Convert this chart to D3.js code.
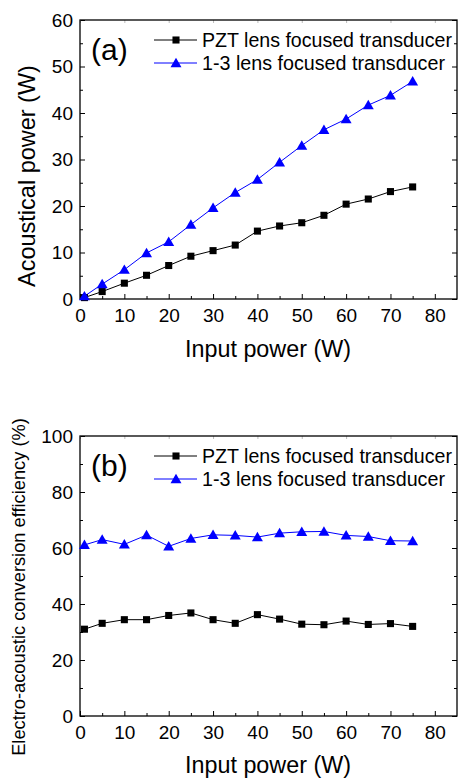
<!DOCTYPE html>
<html><head><meta charset="utf-8">
<script src="https://cdn.jsdelivr.net/npm/d3@7"></script>
<style>body{margin:0;background:#fff}text{font-family:"Liberation Sans",Arial,sans-serif;fill:#000}</style>
</head><body><svg id="c" width="462" height="781"></svg>
<script>
const inputPower = [1,5,10,15,20,25,30,35,40,45,50,55,60,65,70,75];
const pztPower = [0.3,1.6,3.4,5.1,7.2,9.2,10.4,11.6,14.6,15.7,16.4,18.0,20.4,21.5,23.1,24.1];
const c13Power = [0.6,3.2,6.3,9.9,12.3,16.0,19.6,22.9,25.7,29.4,33.0,36.4,38.7,41.7,43.8,46.8];
const pztEff = [31.0,33.1,34.4,34.4,35.9,36.8,34.4,33.1,36.2,34.6,32.8,32.6,33.9,32.7,33.0,32.0];
const c13Eff = [61.1,63.0,61.3,64.6,60.6,63.4,64.7,64.5,63.9,65.3,65.8,65.9,64.5,64.1,62.6,62.5];
const xTicks = [0,10,20,30,40,50,60,70,80];
const yTicksA = [0,10,20,30,40,50,60];
const yTicksB = [0,20,40,60,80,100];
const seriesNames = ["PZT lens focused transducer","1-3 lens focused transducer"];

const svg = d3.select("#c");
const L=80,R=457;

function fitSize(sel,target){
  sel.attr("font-size",20);
  const w=sel.node().getComputedTextLength();
  sel.attr("font-size",20*target/w);
}

function panel(top,bottom,yMax,yTicks,yMinorStep,pzt,c13,label,yTitle,yTitleLen,yTitleX,yTitleY,xTitleY){
  const x=d3.scaleLinear().domain([0,85]).range([L,R]);
  const y=d3.scaleLinear().domain([0,yMax]).range([bottom,top]);
  const g=svg.append("g");
  const xMinor=d3.range(5,85,10);
  const yMinor=d3.range(yMinorStep,yMax,yMinorStep*2);
  g.append("g").attr("transform",`translate(0,${bottom})`)
    .call(d3.axisBottom(x).tickValues(xTicks).tickSizeInner(-5).tickSizeOuter(0).tickPadding(10));
  g.append("g").attr("transform",`translate(0,${bottom})`)
    .call(d3.axisBottom(x).tickValues(xMinor).tickSizeInner(-3).tickSizeOuter(0).tickFormat(""));
  g.append("g").attr("transform",`translate(${L},0)`)
    .call(d3.axisLeft(y).tickValues(yTicks).tickSizeInner(-5).tickSizeOuter(0).tickPadding(7));
  g.append("g").attr("transform",`translate(${L},0)`)
    .call(d3.axisLeft(y).tickValues(yMinor).tickSizeInner(-3).tickSizeOuter(0).tickFormat(""));
  g.append("g").attr("transform",`translate(${R},0)`)
    .call(d3.axisRight(y).tickValues(yTicks).tickSizeInner(-5).tickSizeOuter(0).tickFormat(""));
  g.append("g").attr("transform",`translate(${R},0)`)
    .call(d3.axisRight(y).tickValues(yMinor).tickSizeInner(-3).tickSizeOuter(0).tickFormat(""));
  g.append("g").attr("class","topax").attr("transform",`translate(0,${top})`)
    .call(d3.axisTop(x).tickValues(xTicks).tickSizeInner(-3).tickSizeOuter(0).tickFormat(""));
  g.selectAll(".domain").remove();
  g.selectAll(".tick line").attr("stroke","#000").attr("stroke-width",1);
  g.selectAll(".topax .tick line").attr("stroke","#bbb");
  g.selectAll(".tick text").attr("font-size",19).attr("font-family","Liberation Sans, Arial, sans-serif").attr("fill","#000");
  g.append("rect").attr("x",L).attr("y",top).attr("width",R-L).attr("height",bottom-top)
    .attr("fill","none").attr("stroke","#000").attr("stroke-width",1.3);
  const line=d3.line().x((d,i)=>x(inputPower[i])).y(d=>y(d));
  g.append("path").datum(pzt).attr("d",line).attr("fill","none").attr("stroke","#000").attr("stroke-width",1);
  g.append("path").datum(c13).attr("d",line).attr("fill","none").attr("stroke","#0000ff").attr("stroke-width",1);
  const sq=d3.symbol().type(d3.symbolSquare).size(50);
  const tri=d3.symbol().type(d3.symbolTriangle).size(52);
  g.selectAll(".sq").data(pzt).enter().append("path").attr("d",sq)
    .attr("transform",(d,i)=>`translate(${x(inputPower[i])},${y(d)})`).attr("fill","#000");
  g.selectAll(".tri").data(c13).enter().append("path").attr("d",tri)
    .attr("transform",(d,i)=>`translate(${x(inputPower[i])},${y(d)+1})`).attr("fill","#0000ff");
  g.append("text").attr("x",91).attr("y",top+40).attr("font-size",30).text(label);
  const ly=[top+20,top+43];
  const cols=["#000","#0000ff"];
  const lens=[250,243];
  [0,1].forEach(k=>{
    g.append("line").attr("x1",154).attr("x2",197).attr("y1",ly[k]).attr("y2",ly[k]).attr("stroke",cols[k]).attr("stroke-width",1);
    g.append("path").attr("d",k?tri:sq).attr("transform",`translate(176,${ly[k]+(k?1:0)})`).attr("fill",cols[k]);
    const t=g.append("text").attr("x",202).attr("y",ly[k]+7).text(seriesNames[k]);
    fitSize(t,lens[k]);
  });
  const xt=g.append("text").attr("x",268).attr("y",xTitleY).attr("text-anchor","middle").text("Input power (W)");
  fitSize(xt,166);
  const yt=g.append("text").attr("transform",`translate(${yTitleX},${yTitleY}) rotate(-90)`).attr("text-anchor","middle").text(yTitle);
  fitSize(yt,yTitleLen);
}
panel(20,299,60,yTicksA,5,pztPower,c13Power,"(a)","Acoustical power (W)",222,35,176,357);
panel(436,716,100,yTicksB,10,pztEff,c13Eff,"(b)","Electro-acoustic conversion efficiency (%)",338,25,587,773);
</script></body></html>
